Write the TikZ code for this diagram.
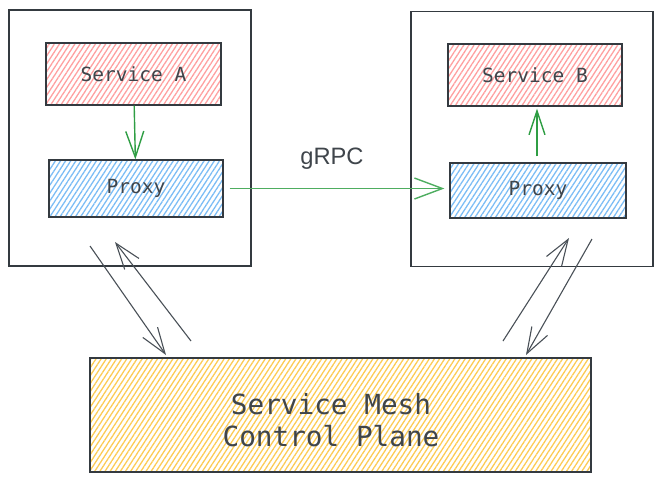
\documentclass[tikz,border=0pt]{standalone}
\usepackage{fontspec}
\setmonofont{DejaVu Sans Mono}
\newfontfamily\grpcfont{Liberation Sans}
\usetikzlibrary{patterns.meta,arrows.meta,calc}
\definecolor{strokec}{HTML}{343A40}
\definecolor{textc}{HTML}{3F454B}
\definecolor{redh}{HTML}{FFA0A0}
\definecolor{blueh}{HTML}{7CBDF5}
\definecolor{yellowh}{HTML}{FCCB55}
\definecolor{greenc}{HTML}{2F9E44}
\definecolor{grayc}{HTML}{495057}
\tikzset{
  outerbox/.style={draw=strokec, line width=1.1pt, minimum width=242pt, minimum height=256pt, inner sep=0pt},
  hatch/.style={pattern={Lines[angle=57,distance=4.3pt,line width=1.3pt]}},
  hbox/.style={draw=strokec, line width=1.2pt, inner sep=0pt, text=textc, font=\ttfamily\fontsize{19.5}{22}\selectfont},
  redbox/.style={hbox, hatch, pattern color=redh},
  bluebox/.style={hbox, hatch, pattern color=blueh},
  yellowbox/.style={draw=strokec, line width=1.2pt, inner sep=0pt, hatch, pattern color=yellowh},
  cptext/.style={text=textc, align=center, font=\ttfamily\fontsize{27.7}{32}\selectfont},
  greenarrow/.style={draw=greenc, line width=1.4pt, -{Straight Barb[length=26pt,width=18pt,line width=1.4pt]}},
  grayarrow/.style={draw=grayc, line width=1.1pt, -{Straight Barb[length=26pt,width=18pt,line width=1.1pt]}},
  lbl/.style={text=textc, font=\grpcfont\fontsize{23.7}{26}\selectfont}
}
\begin{document}
\begin{tikzpicture}[x=1pt,y=-1pt]
\useasboundingbox (0,0) rectangle (664,483);
\node[outerbox] (outerA) at (130,138) {};
\node[outerbox, minimum height=255pt] (outerB) at (532,139) {};
\node[redbox, minimum width=175pt, minimum height=62pt] (serviceA) at (133.5,74) {Service A};
\node[bluebox, minimum width=174pt, minimum height=57pt] (proxyA) at (136,188.5) {Proxy};
\node[redbox, minimum width=174pt, minimum height=62pt] (serviceB) at (535,75) {Service B};
\node[bluebox, minimum width=176pt, minimum height=55pt] (proxyB) at (538,190.5) {Proxy};
\node[yellowbox, minimum width=501pt, minimum height=114pt] (control) at (340.5,415) {};
\node[cptext] (cplabel) at (331,420.5) {Service Mesh\\Control Plane};
\node[lbl, anchor=base] (grpc) at (332,164) {gRPC};
% green arrows
\draw[greenarrow] (serviceA) -- (proxyA);
\draw[greenarrow, line width=1.8pt, draw=greenc!85, -{Straight Barb[length=28pt,width=21pt,line width=1.4pt]}, shorten <=6pt, shorten >=5pt] (proxyA.east) -- (proxyA.east -| proxyB.west);
\draw[greenarrow, -{Straight Barb[length=24pt,width=16pt,line width=1.4pt]}, shorten <=6pt, shorten >=2pt] (proxyB.north -| 537,0) -- (serviceB.south -| 537,0);
% gray arrows
\coordinate (g1s) at (90,246);
\coordinate (g1e) at (166,355);
\coordinate (g2s) at (191,341);
\coordinate (g2e) at (115,242);
\coordinate (g3s) at (503,341);
\coordinate (g3e) at (569,238);
\coordinate (g4s) at (592,239);
\coordinate (g4e) at (526,355);
\draw[grayarrow] (g1s) -- (g1e);
\draw[grayarrow] (g2s) -- (g2e);
\draw[grayarrow] (g3s) -- (g3e);
\draw[grayarrow] (g4s) -- (g4e);
\end{tikzpicture}
\end{document}
